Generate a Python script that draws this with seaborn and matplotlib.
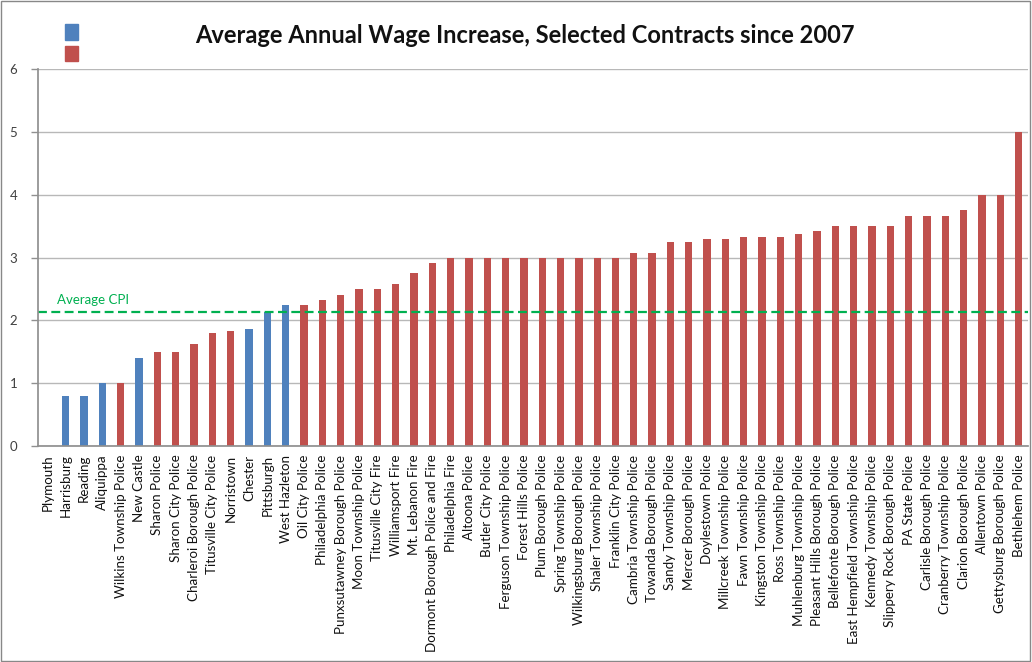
import matplotlib
matplotlib.use("Agg")
import matplotlib.pyplot as plt
import matplotlib.patches as mpatches
import seaborn as sns
import pandas as pd
import numpy as np

categories = [
    "Plymouth", "Harrisburg", "Reading", "Aliquippa", "Wilkins Township Police",
    "New Castle", "Sharon Police", "Sharon City Police", "Charleroi Borough Police",
    "Titusville City Police", "Norristown", "Chester", "Pittsburgh", "West Hazleton",
    "Oil City Police", "Philadelphia Police", "Punxsutawney Borough Police",
    "Moon Township Police", "Titusville City Fire", "Williamsport Fire",
    "Mt. Lebanon Fire", "Dormont Borough Police and Fire", "Philadelphia Fire",
    "Altoona Police", "Butler City Police", "Ferguson Township Police",
    "Forest Hills Police", "Plum Borough Police", "Spring Township Police",
    "Wilkingsburg Borough Police", "Shaler Township Police", "Franklin City Police",
    "Cambria Township Police", "Towanda Borough Police", "Sandy Township Police",
    "Mercer Borough Police", "Doylestown Police", "Millcreek Township Police",
    "Fawn Township Police", "Kingston Township Police", "Ross Township Police",
    "Muhlenburg Township Police", "Pleasant Hills Borough Police",
    "Bellefonte Borough Police", "East Hempfield Township Police",
    "Kennedy Township Police", "Slippery Rock Borough Police", "PA State Police",
    "Carlisle Borough Police", "Cranberry Township Police", "Clarion Borough Police",
    "Allentown Police", "Gettysburg Borough Police", "Bethlehem Police",
]
values = [
    0.0, 0.8, 0.8, 1.0, 1.0,
    1.4, 1.5, 1.5, 1.62,
    1.8, 1.83, 1.87, 2.13, 2.25,
    2.25, 2.33, 2.4,
    2.5, 2.5, 2.58,
    2.75, 2.92, 3.0,
    3.0, 3.0, 3.0,
    3.0, 3.0, 3.0,
    3.0, 3.0, 3.0,
    3.07, 3.07, 3.25,
    3.25, 3.3, 3.3,
    3.33, 3.33, 3.33,
    3.37, 3.42,
    3.5, 3.5,
    3.5, 3.5, 3.66,
    3.66, 3.66, 3.75,
    4.0, 4.0, 5.0,
]
groups = [
    "blue", "blue", "blue", "blue", "red",
    "blue", "red", "red", "red",
    "red", "red", "blue", "blue", "blue",
] + ["red"] * 40
average_cpi = 2.13
yticks = [0, 1, 2, 3, 4, 5, 6]
title = "Average Annual Wage Increase, Selected Contracts since 2007"

BLUE = "#4F81BD"
RED = "#C0504D"
GREEN = "#00B050"

sns.set_theme(style="white")
plt.rcParams["font.family"] = ["Lato", "DejaVu Sans"]

df = pd.DataFrame({"category": categories, "value": values, "group": groups})

fig = plt.figure(figsize=(10.32, 6.62), dpi=100)
ax = fig.add_axes([0.037, 0.326, 0.959, 0.570])

sns.barplot(data=df, x="category", y="value", hue="group",
            palette={"blue": BLUE, "red": RED}, dodge=False, width=0.4,
            legend=False, ax=ax, edgecolor="none", saturation=1)

ax.set_ylim(0, 6)
ax.set_xlim(-0.5, len(categories) - 0.5)
ax.set_yticks(yticks)
ax.set_yticklabels([str(t) for t in yticks], fontsize=9.5, color="#404040")
ax.yaxis.grid(True, color="#b8b8b8", linewidth=1)
ax.set_axisbelow(True)
ax.set_xlabel("")
ax.set_ylabel("")

ax.set_xticks(range(len(categories)))
ax.set_xticklabels(categories, rotation=90, fontsize=9.6, color="#111111")
ax.tick_params(axis="x", which="major", length=0, pad=6)
ax.set_xticks(np.arange(-0.5, len(categories), 1), minor=True)
ax.tick_params(axis="x", which="minor", length=5, color="#909090", width=1, direction="out")
ax.tick_params(axis="y", length=5, color="#909090", width=1, direction="out", left=True, pad=10)

for side in ["top", "right"]:
    ax.spines[side].set_visible(False)
ax.spines["left"].set_color("#909090")
ax.spines["bottom"].set_color("#909090")

ax.axhline(average_cpi, color=GREEN, linestyle=(0, (4, 2)), linewidth=1.6)
ax.text(0.5, average_cpi + 0.1, "Average CPI", color=GREEN, fontsize=9.5, ha="left", va="bottom")

fig.text(0.509, 0.947, title, ha="center", va="center", fontsize=17, fontweight="bold", color="#111111")

handles = [mpatches.Patch(color=BLUE), mpatches.Patch(color=RED)]
fig.legend(handles, ["", ""], loc="upper left", bbox_to_anchor=(0.056, 0.975),
           frameon=False, handlelength=0.8, handleheight=1.2, labelspacing=0.35,
           handletextpad=0, borderpad=0)

fig.patches.append(mpatches.Rectangle((0.001, 0.001), 0.997, 0.997, transform=fig.transFigure,
                                      fill=False, edgecolor="#888888", linewidth=1))

fig.savefig("out.png", dpi=100)
